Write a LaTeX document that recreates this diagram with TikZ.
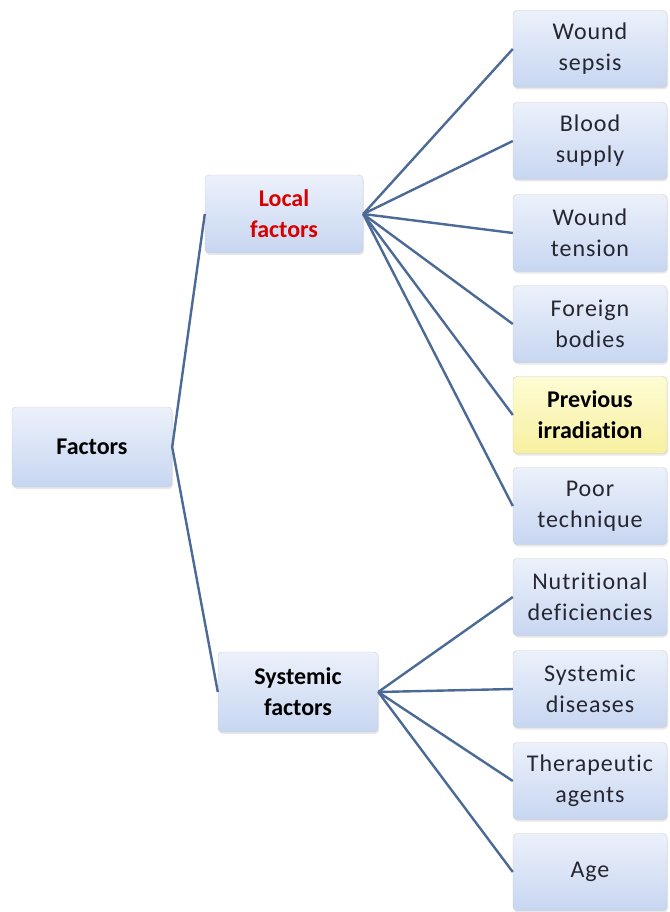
\documentclass[tikz,border=0pt]{standalone}
\usepackage{fontspec}
\setmainfont[Ligatures={NoCommon}, LetterSpace=4]{Carlito}
\newfontfamily\tightfam[Ligatures={NoCommon}]{Carlito}
\usetikzlibrary{shadows}
\definecolor{linkblue}{RGB}{76,106,150}
\definecolor{boxtop}{RGB}{236,241,251}
\definecolor{boxbot}{RGB}{199,214,241}
\definecolor{hitop}{RGB}{254,252,212}
\definecolor{hibot}{RGB}{247,240,160}
\definecolor{txt}{RGB}{38,38,48}

\begin{document}
\begin{tikzpicture}[x=1pt, y=-1pt,
    box/.style={draw=black!20, rounded corners=4pt, top color=boxtop,
        bottom color=boxbot, align=center, text=txt, font=\fontsize{24}{31}\selectfont,
        minimum width=154pt, minimum height=77pt, inner sep=1pt,
        drop shadow={opacity=0.18, shadow xshift=1pt, shadow yshift=-2pt}},
    hibox/.style={box, top color=hitop, bottom color=hibot},
    bold/.style={text=black, font=\fontsize{24}{31}\selectfont\tightfam\bfseries},
    link/.style={draw=linkblue, line width=2.4pt}]
    \useasboundingbox (0,0) rectangle (669,912);

    % Main node and the two groups
    \node[box, bold, minimum width=160pt, minimum height=80pt] (fac) at (92,447) {Factors};
    \node[box, bold, minimum width=158pt, minimum height=78pt, text=red!85!black] (loc) at (284,214) {Local\\factors};
    \node[box, bold, minimum width=160pt, minimum height=80pt] (sys) at (298,692) {Systemic\\factors};

    % Local factors
    \node[box] (l1) at (590,49) {Wound\\sepsis};
    \node[box] (l2) at (590,141) {Blood\\supply};
    \node[box] (l3) at (590,233) {Wound\\tension};
    \node[box] (l4) at (590,324) {Foreign\\bodies};
    \node[hibox, bold] (l5) at (590,415) {Previous\\irradiation};
    \node[box] (l6) at (590,506) {Poor\\technique};

    % Systemic factors
    \node[box] (s1) at (590,597) {Nutritional\\deficiencies};
    \node[box] (s2) at (590,689) {Systemic\\diseases};
    \node[box] (s3) at (590,781) {Therapeutic\\agents};
    \node[box] (s4) at (590,872) {Age};

    % Connectors
    \draw[link] (loc.west) -- (fac.east) -- (sys.west);
    \foreach \n in {l1,l2,l3,l4,l5,l6}
        \draw[link] (loc.east) -- (\n.west);
    \foreach \n in {s1,s2,s3,s4}
        \draw[link] (sys.east) -- (\n.west);
\end{tikzpicture}
\end{document}
